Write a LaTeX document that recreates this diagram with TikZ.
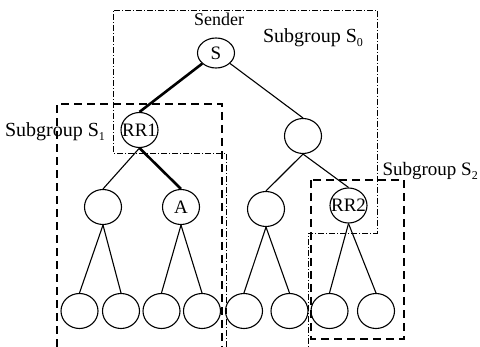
\documentclass[tikz,border=0pt]{standalone}
\usepackage{fontspec}
\setmainfont{Liberation Serif}
\usetikzlibrary{shapes.geometric}
% zero-width box so node text never enlarges the ellipse
\newcommand{\ctr}[1]{\makebox[0pt]{#1}}
% lowered small index after a group name
\newcommand{\subidx}[1]{\raisebox{-0.4ex}{\fontsize{12}{12}\selectfont #1}}
\begin{document}
\begin{tikzpicture}[x=1pt,y=-1pt,
  tnode/.style={ellipse,draw,line width=1.1pt,minimum width=37pt,minimum height=35pt,
                inner sep=0pt,font=\fontsize{19}{19}\selectfont},
  edge/.style={line width=1.1pt},
  heavy/.style={line width=2.6pt},
  grpbox/.style={line width=2.4pt,dash pattern=on 8pt off 5pt},
  rootbox/.style={line width=0.9pt,dash pattern=on 6pt off 2pt on 1pt off 2pt},
  lbl/.style={inner sep=0pt,font=\fontsize{20}{20}\selectfont}]
\useasboundingbox (0,0) rectangle (480,347);

% tree nodes
\node[tnode,minimum height=30pt] (s) at (216,53) {\ctr{S}};
\node[tnode] (rr1) at (139.5,130) {\ctr{RR1}};
\node[tnode] (r)   at (303,136) {};
\node[tnode] (ll)  at (103,207) {};
\node[tnode] (a)   at (181,207) {\ctr{A}};
\node[tnode] (m)   at (266,209) {};
\node[tnode] (rr2) at (348.5,205.5) {\ctr{RR2}};
\foreach \i/\x in {1/79.5,2/121,3/161.5,4/202,5/244,6/289.5,7/329.5,8/376}
  \node[tnode] (l\i) at (\x,311) {};

% connectors
\draw[heavy] (s) -- (rr1.north);
\draw[edge]  (s) -- (r.north);
\draw[edge]  (rr1.south) -- (ll.north);
\draw[heavy] (rr1.south) -- (a.north);
\draw[edge]  (r.south) -- (m.north);
\draw[edge]  (r.south) -- (rr2.north);
\draw[edge]  (ll.south) -- (l1.north);
\draw[edge]  (ll.south) -- (l2.north);
\draw[edge]  (a.south) -- (l3.north);
\draw[edge]  (a.south) -- (l4.north);
\draw[edge]  (m.south) -- (l5.north);
\draw[edge]  (m.south) -- (l6.north);
\draw[edge]  (rr2.south) -- (l7.north);
\draw[edge]  (rr2.south) -- (l8.north);

% subgroup outlines
\draw[rootbox] (226,347) -- (226,153) -- (113,153) -- (113,10) -- (377,10)
               -- (377,233) -- (308,233) -- (308,347);
\draw[grpbox] (57,347) -- (57,104) -- (222,104) -- (222,347);
\draw[grpbox] (311,180) rectangle (404,339);

% labels
\node[lbl,font=\fontsize{18}{18}\selectfont] (sender) at (219,19) {Sender};
\node[lbl] (g0) at (313,38) {Subgroup S\subidx{0}};
\node[lbl] (g1) at (55,132) {Subgroup S\subidx{1}};
\node[lbl,anchor=east,font=\fontsize{19}{19}\selectfont] (g2) at (478,171) {Subgroup S\subidx{2}};
\end{tikzpicture}
\end{document}
